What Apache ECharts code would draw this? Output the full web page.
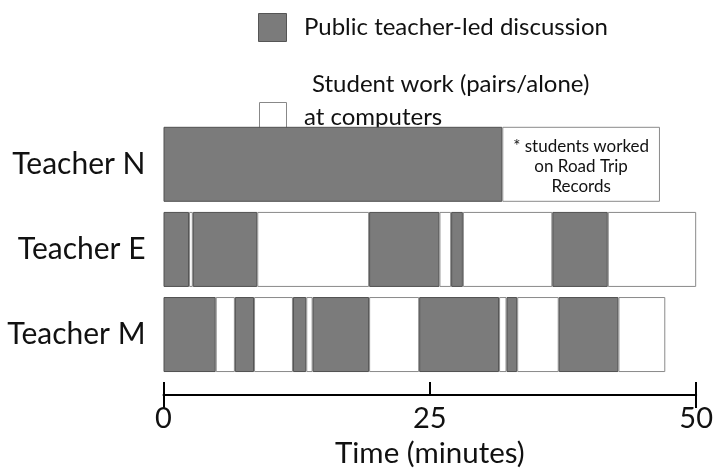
<!DOCTYPE html>
<html>
<head>
<meta charset="utf-8">
<script src="https://cdn.jsdelivr.net/npm/echarts@6/dist/echarts.min.js"></script>
<style>
html,body{margin:0;padding:0;background:#fff;}
#chart{width:716px;height:473px;}
</style>
</head>
<body>
<div id="chart"></div>
<script>
// Categories (top to bottom)
const teachers = ['Teacher N', 'Teacher E', 'Teacher M'];
// Minutes at which each activity segment ends (segments alternate: discussion, student work, ...)
const switchTimesN = [31.8, 46.6];
const switchTimesE = [2.4, 2.75, 8.8, 19.3, 25.9, 27.0, 28.1, 36.5, 41.7, 50];
const switchTimesM = [4.9, 6.7, 8.5, 12.15, 13.4, 14.0, 19.3, 24.0, 31.5, 32.2, 33.2, 37.1, 42.7, 47.1];
// Axis ticks
const xTicks = [0, 25, 50];
const xAxisTitle = 'Time (minutes)';
// Legend labels
const activityNames = ['Public teacher-led discussion', 'Student work (pairs/alone) at computers'];
const noteN = '* students worked\non Road Trip\nRecords';

const FONT = 'Lato, "DejaVu Sans", sans-serif';
const GRAY = '#7b7b7b';
const rows = [switchTimesN, switchTimesE, switchTimesM];
const maxSeg = Math.max(...rows.map(r => r.length));

const series = [];
for (let i = 0; i < maxSeg; i++) {
  const isDisc = i % 2 === 0;
  const data = rows.map((r, ri) => {
    if (i >= r.length) return '-';
    const v = +(r[i] - (i ? r[i - 1] : 0)).toFixed(3);
    if (ri === 0 && i === 1) {
      return {
        value: v,
        label: {
          show: true, position: 'inside', formatter: noteN,
          fontFamily: FONT, fontSize: 17, lineHeight: 20, color: '#111', offset: [0, 2]
        }
      };
    }
    return v;
  });
  series.push({
    type: 'bar',
    name: activityNames[i % 2],
    stack: 'time',
    xAxisIndex: 0,
    barWidth: 75,
    data: data,
    itemStyle: {
      color: isDisc ? GRAY : '#ffffff',
      borderColor: isDisc ? '#505050' : '#8a8a8a',
      borderWidth: 1
    },
    emphasis: { disabled: true },
    silent: true
  });
}

const chart = echarts.init(document.getElementById('chart'), null, { renderer: 'canvas' });
chart.setOption({
  animation: false,
  backgroundColor: '#fff',
  grid: { left: 163.5, right: 18.5, top: 121.75, bottom: 91.75, containLabel: false },
  xAxis: [
    {
      type: 'value', min: xTicks[0], max: xTicks[xTicks.length - 1], interval: xTicks[1] - xTicks[0],
      position: 'bottom', offset: 18,
      axisLine: { show: true, lineStyle: { color: '#000', width: 2 } },
      axisTick: { show: true, inside: true, length: 13, lineStyle: { color: '#000', width: 2 } },
      axisLabel: { fontFamily: FONT, fontSize: 29, color: '#111', margin: 9 },
      splitLine: { show: false },
      name: xAxisTitle, nameLocation: 'middle', nameGap: 39,
      nameTextStyle: { fontFamily: FONT, fontSize: 29.5, color: '#111' }
    },
    {
      type: 'value', min: xTicks[0], max: xTicks[xTicks.length - 1], interval: xTicks[xTicks.length - 1] - xTicks[0],
      position: 'bottom', offset: 18,
      axisLine: { show: false },
      axisTick: { show: true, inside: false, length: 13, lineStyle: { color: '#000', width: 2 } },
      axisLabel: { show: false },
      splitLine: { show: false }
    }
  ],
  yAxis: {
    type: 'category', data: teachers, inverse: true,
    axisLine: { show: false }, axisTick: { show: false },
    axisLabel: { fontFamily: FONT, fontSize: 30, color: '#111', margin: 18 }
  },
  graphic: [
    { type: 'rect', left: 258, top: 13, shape: { width: 28, height: 28 }, style: { fill: GRAY, stroke: '#555', lineWidth: 1 } },
    { type: 'text', left: 304, top: 15, style: { text: activityNames[0], font: '24px ' + FONT, fill: '#111' } },
    { type: 'rect', left: 259, top: 102, shape: { width: 27, height: 27 }, style: { fill: '#fff', stroke: '#888', lineWidth: 1 } },
    { type: 'text', left: 312, top: 72, style: { text: 'Student work (pairs/alone)', font: '24px ' + FONT, fill: '#111' } },
    { type: 'text', left: 304, top: 105, style: { text: 'at computers', font: '24px ' + FONT, fill: '#111' } }
  ],
  series: series
});
</script>
</body>
</html>
